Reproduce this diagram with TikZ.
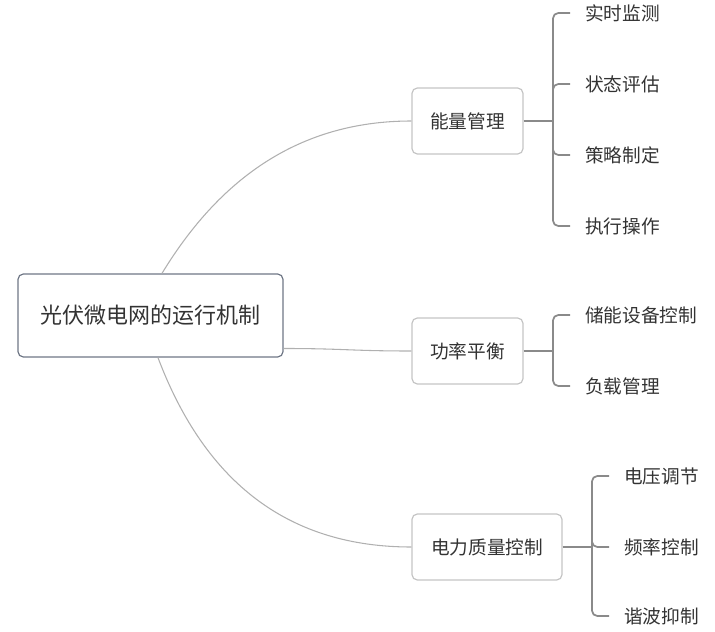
\documentclass[tikz,border=0pt]{standalone}
\usepackage{fontspec}
\setmainfont{Noto Sans CJK SC}
\definecolor{txtgray}{HTML}{333333}
\definecolor{rootborder}{HTML}{6E7685}
\definecolor{boxborder}{HTML}{C4C4C4}
\definecolor{curvegray}{HTML}{B0B0B0}
\definecolor{bracegray}{HTML}{8A8A8A}
\tikzset{
  rootbox/.style={draw=rootborder, line width=0.9pt, rounded corners=4pt, text=txtgray,
    minimum width=198.75pt, minimum height=62.25pt, font=\fontsize{16.5}{18}\selectfont},
  topicbox/.style={draw=boxborder, line width=0.9pt, rounded corners=4pt, text=txtgray,
    minimum height=49.5pt, font=\fontsize{14}{16}\selectfont},
  leafnode/.style={anchor=west, inner xsep=11.25pt, inner ysep=0pt, text=txtgray,
    font=\fontsize{14}{16}\selectfont},
  curveline/.style={draw=curvegray, line width=0.8pt},
  braceline/.style={draw=bracegray, line width=1.3pt, rounded corners=4pt},
}
\begin{document}
\begin{tikzpicture}[x=0.75pt, y=-0.75pt]
  \useasboundingbox (0,0) rectangle (715,632);
  % root and topics
  \node[rootbox] (root) at (150.5,315.5) {光伏微电网的运行机制};
  \node[topicbox, minimum width=83.25pt] (energy) at (467.5,121) {能量管理};
  \node[topicbox, minimum width=83.25pt] (power) at (467.5,351) {功率平衡};
  \node[topicbox, minimum width=112.5pt] (quality) at (487,547) {电力质量控制};
  % leaves
  \node[leafnode] (monitor) at (570,13) {实时监测};
  \node[leafnode] (assess) at (570,84) {状态评估};
  \node[leafnode] (strategy) at (570,155) {策略制定};
  \node[leafnode] (execute) at (570,226) {执行操作};
  \node[leafnode] (storage) at (570,315) {储能设备控制};
  \node[leafnode] (load) at (570,386) {负载管理};
  \node[leafnode] (voltage) at (609,476) {电压调节};
  \node[leafnode] (freq) at (609,547) {频率控制};
  \node[leafnode] (harmonic) at (609,616) {谐波抑制};
  \coordinate (jenergy) at (553,121);
  \coordinate (jpower) at (553,351);
  \coordinate (jquality) at (592,547);
  % curves from the root
  \draw[curveline] ([xshift=8.6pt]root.north) .. controls +(62,-102) and +(-105,0) .. (energy.west);
  \draw[curveline] ([yshift=-24.75pt]root.east) .. controls +(60,0) and +(-60,0) .. (power.west);
  \draw[curveline] ([xshift=5.6pt]root.south) .. controls +(48,127) and +(-121,0) .. (quality.west);
  % brackets
  \draw[braceline] (energy.east) -- (jenergy);
  \foreach \leaf in {monitor,assess,strategy,execute}
    \draw[braceline] (jenergy) |- (\leaf.west);
  \draw[braceline] (power.east) -- (jpower);
  \foreach \leaf in {storage,load}
    \draw[braceline] (jpower) |- (\leaf.west);
  \draw[braceline] (quality.east) -- (jquality);
  \foreach \leaf in {voltage,freq,harmonic}
    \draw[braceline] (jquality) |- (\leaf.west);
\end{tikzpicture}
\end{document}
